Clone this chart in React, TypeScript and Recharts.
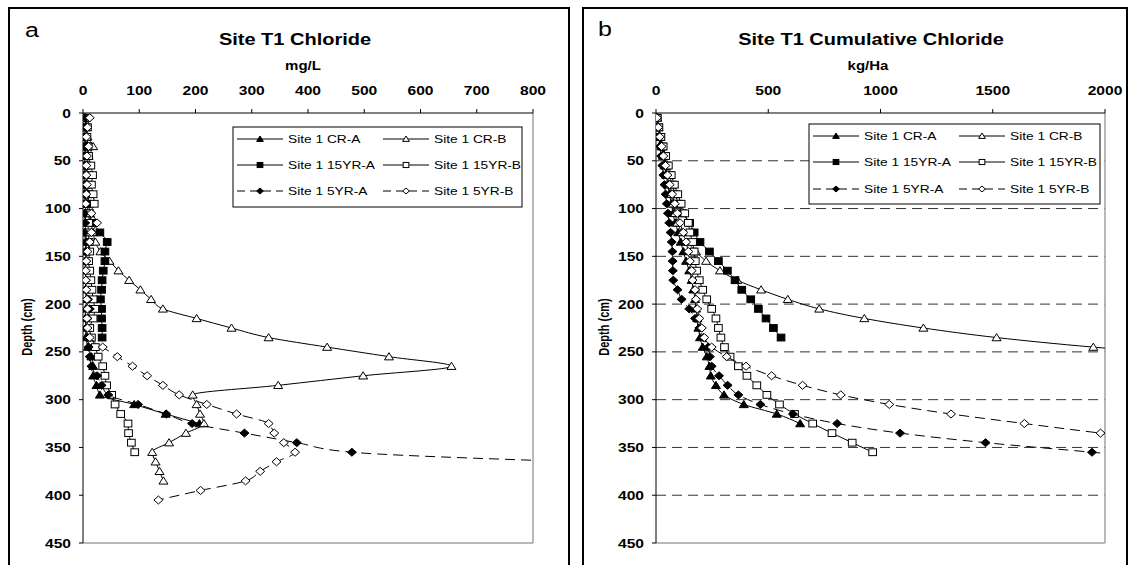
import React from 'react';
import { ScatterChart, Scatter, XAxis, YAxis, ReferenceLine } from 'recharts';

// sample depths (cm), every series starts at 5 cm and steps by 10
const depth = [5, 15, 25, 35, 45, 55, 65, 75, 85, 95, 105, 115, 125, 135, 145, 155, 165, 175, 185, 195, 205, 215, 225, 235, 245, 255, 265, 275, 285, 295, 305, 315, 325, 335, 345, 355, 365, 375, 385, 395, 405];

const concTicks = [0, 100, 200, 300, 400, 500, 600, 700, 800];
const cumTicks = [0, 500, 1000, 1500, 2000];
const depthTicks = [0, 50, 100, 150, 200, 250, 300, 350, 400, 450];
const gridDepths = [50, 100, 150, 200, 250, 300, 350, 400];

// chloride mg/L
const concCRA = [3, 4, 3, 5, 4, 3, 4, 3, 4, 4, 5, 4, 5, 6, 5, 4, 4, 5, 4, 6, 5, 4, 5, 5, 9, 15, 18, 18, 24, 30, 91, 147, 207];
const concCRB = [4, 6, 8, 18, 10, 8, 7, 8, 9, 10, 12, 14, 18, 22, 31, 47, 63, 82, 102, 121, 142, 202, 264, 330, 434, 544, 655, 498, 347, 195, 202, 208, 215, 183, 153, 123, 129, 136, 143];
const conc15A = [5, 6, 5, 7, 8, 6, 7, 6, 8, 7, 10, 18, 30, 43, 39, 39, 36, 34, 33, 31, 33, 33, 34, 34];
const conc15B = [6, 8, 7, 9, 10, 14, 17, 15, 18, 20, 12, 10, 9, 11, 12, 10, 12, 14, 16, 18, 21, 18, 12, 15, 22, 27, 35, 39, 42, 51, 57, 67, 80, 81, 86, 92];
const conc5A = [4, 5, 3, 4, 3, 4, 3, 4, 3, 4, 3, 4, 3, 5, 4, 5, 4, 5, 5, 9, 12, 8, 6, 8, 10, 12, 15, 25, 33, 45, 98, 148, 194, 287, 380, 478, 880];
const conc5B = [12, 8, 6, 10, 7, 6, 6, 7, 6, 5, 15, 25, 15, 12, 8, 6, 5, 5, 6, 7, 8, 7, 8, 12, 35, 61, 88, 114, 142, 171, 220, 273, 330, 340, 357, 377, 344, 315, 289, 209, 134];

// cumulative chloride kg/Ha
const cumCRA = [4, 10, 17, 24, 31, 38, 45, 52, 60, 68, 76, 85, 99, 110, 122, 134, 148, 159, 166, 174, 178, 184, 189, 196, 208, 226, 238, 244, 267, 303, 391, 538, 642];
const cumCRB = [4, 10, 18, 26, 34, 42, 50, 58, 67, 76, 85, 95, 115, 140, 178, 223, 285, 362, 468, 587, 727, 928, 1191, 1517, 1948, 2500];
const cum15A = [5, 12, 20, 29, 38, 48, 60, 72, 85, 100, 118, 150, 170, 196, 238, 278, 318, 352, 382, 422, 456, 490, 523, 557];
const cum15B = [5, 13, 22, 32, 43, 55, 68, 82, 97, 112, 128, 144, 151, 163, 170, 175, 181, 193, 208, 226, 248, 267, 278, 289, 305, 330, 367, 405, 449, 494, 550, 617, 698, 784, 874, 965];
const cum5A = [3, 8, 13, 18, 23, 28, 33, 38, 43, 48, 53, 59, 65, 70, 73, 74, 75, 77, 96, 114, 148, 174, 193, 211, 233, 240, 248, 281, 319, 367, 465, 610, 807, 1087, 1468, 1942, 2400];
const cum5B = [4, 10, 17, 25, 33, 42, 51, 61, 72, 84, 95, 107, 122, 134, 144, 151, 159, 163, 174, 178, 184, 193, 204, 215, 248, 315, 401, 515, 653, 823, 1039, 1314, 1641, 1980, 2350];

const series = [
  { name: 'Site 1 CR-A', kind: 'triF', dashed: false, conc: concCRA, cum: cumCRA },
  { name: 'Site 1 CR-B', kind: 'triO', dashed: false, conc: concCRB, cum: cumCRB },
  { name: 'Site 1 15YR-A', kind: 'sqF', dashed: false, conc: conc15A, cum: cum15A },
  { name: 'Site 1 15YR-B', kind: 'sqO', dashed: false, conc: conc15B, cum: cum15B },
  { name: 'Site 1 5YR-A', kind: 'diaF', dashed: true, conc: conc5A, cum: cum5A },
  { name: 'Site 1 5YR-B', kind: 'diaO', dashed: true, conc: conc5B, cum: cum5B },
];

const FONT = '"Liberation Sans", Arial, sans-serif';
const SX = 1.25; // the source picture is stretched sideways
const DASH = '10 6';

const pts = (vals: number[]) => vals.map((v, i) => ({ x: v, y: depth[i] }));

function Marker({ kind, cx, cy, s = 1 }: any) {
  const fill = kind.endsWith('F') ? '#000' : '#fff';
  const w = 4.5 * s, h = 4 * s;
  if (kind.startsWith('tri'))
    return <polygon points={`${cx},${cy - h} ${cx + w},${cy + h * 0.8} ${cx - w},${cy + h * 0.8}`} fill={fill} stroke="#000" strokeWidth={1} />;
  if (kind.startsWith('sq'))
    return <rect x={cx - w * 0.85} y={cy - h * 0.85} width={w * 1.7} height={h * 1.7} fill={fill} stroke="#000" strokeWidth={1} />;
  return <polygon points={`${cx},${cy - h} ${cx + w},${cy} ${cx},${cy + h} ${cx - w},${cy}`} fill={fill} stroke="#000" strokeWidth={1} />;
}

const XTick = ({ x, y, payload }: any) => (
  <text transform={`translate(${x},${y}) scale(${SX},1)`} textAnchor="middle" fontFamily={FONT} fontWeight="bold" fontSize={12.5} fill="#000">
    {payload.value}
  </text>
);

const YTick = ({ x, y, payload }: any) => (
  <text transform={`translate(${x},${y + 4.5}) scale(${SX},1)`} textAnchor="end" fontFamily={FONT} fontWeight="bold" fontSize={12.5} fill="#000">
    {payload.value}
  </text>
);

function Panel({ field, max, ticks, grid, margin }: any) {
  return (
    <ScatterChart width={560} height={565} margin={margin}>
      <XAxis type="number" dataKey="x" orientation="top" domain={[0, max]} ticks={ticks} allowDataOverflow height={30}
        tickSize={4} tickMargin={14} axisLine={{ stroke: '#000' }} tickLine={{ stroke: '#000' }} tick={(p: any) => <XTick {...p} />} />
      <YAxis type="number" dataKey="y" domain={[0, 450]} reversed ticks={depthTicks} width={60} allowDataOverflow
        tickSize={4} tickMargin={8} axisLine={{ stroke: '#000' }} tickLine={{ stroke: '#000' }} tick={(p: any) => <YTick {...p} />} />
      {grid && gridDepths.map((d) => (
        <ReferenceLine key={d} y={d} stroke="#333" strokeDasharray={DASH} />
      ))}
      <ReferenceLine x={max} stroke="#a0a0a0" strokeWidth={1.5} />
      <ReferenceLine y={450} stroke="#a0a0a0" strokeWidth={1.5} />
      {series.map((s) => (
        <Scatter key={s.name} name={s.name} data={pts(s[field as 'conc' | 'cum'])} fill="#000"
          line={{ stroke: '#000', strokeWidth: 1, strokeDasharray: s.dashed ? DASH : 'none' }}
          lineJointType="monotoneY" isAnimationActive={false}
          shape={(p: any) => <Marker kind={s.kind} cx={p.cx} cy={p.cy} />} />
      ))}
    </ScatterChart>
  );
}

function LegendBox({ x, y, w, h, rows, col2 }: any) {
  return (
    <g>
      <rect x={x} y={y} width={w} height={h} fill="#fff" stroke="#000" strokeWidth={1} />
      {series.map((s, i) => {
        const col = i % 2;
        const row = Math.floor(i / 2);
        const lx = x + 4 + col * col2;
        const ly = rows[row];
        return (
          <g key={s.name}>
            <line x1={lx} y1={ly} x2={lx + 46} y2={ly} stroke="#000" strokeWidth={1} strokeDasharray={s.dashed ? '8 5' : undefined} />
            <Marker kind={s.kind} cx={lx + 23} cy={ly} s={0.75} />
            <text transform={`translate(${lx + 51},${ly + 4}) scale(${SX},1)`} fontFamily={FONT} fontSize={11} fill="#000">{s.name}</text>
          </g>
        );
      })}
    </g>
  );
}

function Label({ x, y, children, size, bold = true, anchor = 'middle', rotate = 0 }: any) {
  return (
    <text transform={`translate(${x},${y}) scale(${SX},1) rotate(${rotate})`} textAnchor={anchor} fontFamily={FONT}
      fontWeight={bold ? 'bold' : 'normal'} fontSize={size} fill="#000">
      {children}
    </text>
  );
}

export default function App() {
  return (
    <div style={{ position: 'absolute', left: 0, top: 0, width: 1130, height: 565, background: '#fff', overflow: 'hidden' }}>
      <div style={{ position: 'absolute', left: 0, top: 0 }}>
        <Panel field="conc" max={800} ticks={concTicks} grid={false} margin={{ top: 83, left: 23, right: 27, bottom: 22 }} />
      </div>
      <div style={{ position: 'absolute', left: 570, top: 0 }}>
        <Panel field="cum" max={2000} ticks={cumTicks} grid margin={{ top: 83, left: 26, right: 25, bottom: 22 }} />
      </div>
      <svg width={1130} height={565} style={{ position: 'absolute', left: 0, top: 0, pointerEvents: 'none' }}>
        <rect x={9} y={8} width={560} height={600} fill="none" stroke="#000" strokeWidth={2} />
        <rect x={583} y={8} width={544} height={600} fill="none" stroke="#000" strokeWidth={2} />

        <Label x={25} y={37} size={20} bold={false} anchor="start">a</Label>
        <Label x={295} y={45} size={16}>Site T1 Chloride</Label>
        <Label x={303} y={70} size={12}>mg/L</Label>
        <Label x={32} y={327} size={11} rotate={-90}>Depth (cm)</Label>

        <Label x={598} y={36} size={20} bold={false} anchor="start">b</Label>
        <Label x={871} y={45} size={16}>Site T1 Cumulative Chloride</Label>
        <Label x={868} y={70} size={12}>kg/Ha</Label>
        <Label x={609} y={327} size={11} rotate={-90}>Depth (cm)</Label>

        <LegendBox x={233} y={127} w={289} h={80} rows={[139, 165, 191]} col2={146} />
        <LegendBox x={809} y={124} w={291} h={80} rows={[136, 162, 189]} col2={146} />
      </svg>
    </div>
  );
}
